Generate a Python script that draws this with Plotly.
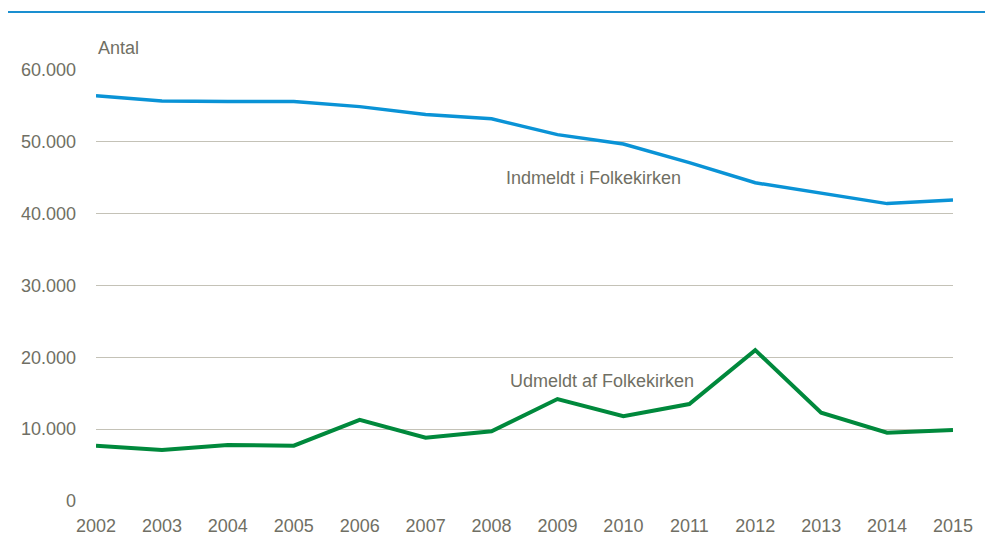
import plotly.graph_objects as go

years = list(range(2002, 2016))
indmeldt = [56400, 55700, 55600, 55600, 54900, 53800, 53200, 51000, 49700, 47100, 44300, 42800, 41400, 41900]
udmeldt = [7700, 7100, 7800, 7700, 11300, 8800, 9700, 14200, 11800, 13500, 21000, 12300, 9500, 9900]
y_ticks = [0, 10000, 20000, 30000, 40000, 50000, 60000]
y_ticktext = ["0", "10.000", "20.000", "30.000", "40.000", "50.000", "60.000"]

FONT = "Liberation Sans Narrow, Arial Narrow, Liberation Sans, Arial, sans-serif"
GRAY = "#706f64"
FS = 18

# page body has an 8px margin; compensate so the plot lands where the reference has it
OFF = 8
L, T = 96 - OFF, 70 - OFF
PW, PH = 857, 431

fig = go.Figure()
fig.add_trace(go.Scatter(x=years, y=indmeldt, mode="lines", name="Indmeldt i Folkekirken",
                         line=dict(color="#0a93d6", width=3.5), cliponaxis=False))
fig.add_trace(go.Scatter(x=years, y=udmeldt, mode="lines", name="Udmeldt af Folkekirken",
                         line=dict(color="#00893c", width=4), cliponaxis=False))

fig.update_layout(
    width=995, height=548,
    margin=dict(l=L, r=995 - L - PW, t=T, b=548 - T - PH),
    paper_bgcolor="white", plot_bgcolor="white",
    showlegend=False,
    font=dict(family=FONT, size=FS, color=GRAY),
    xaxis=dict(range=[2002, 2015], tickmode="array", tickvals=years,
               ticktext=[str(y) for y in years], showgrid=False, zeroline=False,
               showline=False, ticks="", ticklabelstandoff=12,
               tickfont=dict(family=FONT, size=FS, color=GRAY)),
    yaxis=dict(range=[0, 60000], tickmode="array", tickvals=y_ticks, ticktext=y_ticktext,
               showgrid=True, gridcolor="#c4c2b7", gridwidth=1, zeroline=False,
               showline=False, ticks="", ticklabelstandoff=19,
               tickfont=dict(family=FONT, size=FS, color=GRAY)),
    annotations=[
        dict(text="Antal", x=0, y=(501 - 48) / PH, xref="paper", yref="paper", xanchor="left",
             yanchor="middle", showarrow=False, font=dict(family=FONT, size=FS, color=GRAY)),
        dict(text="Indmeldt i Folkekirken", x=(504 - 96) / PW, y=(501 - 178) / PH,
             xref="paper", yref="paper", xanchor="left", yanchor="middle", showarrow=False,
             font=dict(family=FONT, size=FS, color=GRAY)),
        dict(text="Udmeldt af Folkekirken", x=(508 - 96) / PW, y=(501 - 381) / PH,
             xref="paper", yref="paper", xanchor="left", yanchor="middle", showarrow=False,
             font=dict(family=FONT, size=FS, color=GRAY)),
    ],
    shapes=[
        dict(type="line", xref="paper", yref="paper",
             x0=(6 - 96) / PW, x1=(985 - 96) / PW,
             y0=(501 - 12) / PH, y1=(501 - 12) / PH,
             line=dict(color="#1a8fd0", width=2)),
    ],
)

fig.write_html("out.html")
